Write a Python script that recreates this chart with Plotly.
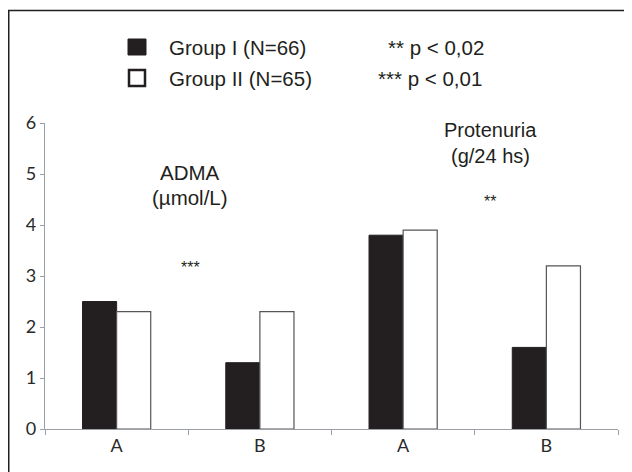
import plotly.graph_objects as go

categories = ["A1", "B1", "A2", "B2"]
tick_labels = ["A", "B", "A", "B"]
group1 = [2.5, 1.3, 3.8, 1.6]
group2 = [2.3, 2.3, 3.9, 3.2]
group1_name = "Group I (N=66)"
group2_name = "Group II (N=65)"

W, H = 624, 464
OFF = 8  # page body margin
# target plot area in screenshot pixels: x 45..618, y 123..429
L = 45 - OFF
T = 123 - OFF
R = W - (618 - OFF)
B = H - (429 - OFF)
pw, ph = W - L - R, H - T - B

def px(x):
    return (x - OFF - L) / pw

def py(y):
    return (H - B - (y - OFF)) / ph

fig = go.Figure()
fig.add_trace(go.Bar(x=categories, y=group1, name=group1_name,
                     marker=dict(color="#231f20", line=dict(color="#231f20", width=1))))
fig.add_trace(go.Bar(x=categories, y=group2, name=group2_name,
                     marker=dict(color="white", line=dict(color="#555555", width=1.2))))

axis_grey = "#9aa0a6"
tick_font = dict(family="Lato", size=18, color="#2a2a2a")
fig.update_layout(
    width=W, height=H,
    margin=dict(l=L, r=R, t=T, b=B, pad=0),
    paper_bgcolor="white", plot_bgcolor="white",
    showlegend=False,
    barmode="group", bargap=0.524, bargroupgap=0,
    xaxis=dict(type="category", tickmode="array", tickvals=categories, ticktext=tick_labels,
               tickson="boundaries", ticks="outside", ticklen=5, tickcolor=axis_grey,
               showline=True, linecolor=axis_grey, linewidth=1.2, showgrid=False,
               tickfont=tick_font),
    yaxis=dict(range=[0, 6], dtick=1, ticks="outside", ticklen=4, tickcolor=axis_grey,
               showline=True, linecolor=axis_grey, linewidth=1.2, showgrid=False,
               zeroline=False, tickfont=tick_font),
    font=dict(family="Liberation Sans", color="#231f20"),
)

shapes = []
# outer frame
shapes.append(dict(type="rect", xref="paper", yref="paper",
                   x0=px(8.75), x1=px(W + 60), y0=py(H + 60), y1=py(10.5),
                   line=dict(color="#231f20", width=1.5), fillcolor="rgba(0,0,0,0)"))
# legend boxes
shapes.append(dict(type="rect", xref="paper", yref="paper",
                   x0=px(128), x1=px(146), y0=py(55), y1=py(39),
                   line=dict(color="#231f20", width=1), fillcolor="#231f20"))
shapes.append(dict(type="rect", xref="paper", yref="paper",
                   x0=px(129), x1=px(145), y0=py(86), y1=py(70),
                   line=dict(color="#231f20", width=2.5), fillcolor="white"))
fig.update_layout(shapes=shapes)

def ann(text, x, y, size, xanchor="center", family="Liberation Sans"):
    fig.add_annotation(text=text, xref="paper", yref="paper", x=px(x), y=py(y),
                       xanchor=xanchor, yanchor="middle", showarrow=False,
                       font=dict(size=size, family=family, color="#231f20"))

ann(group1_name, 167, 47, 20.5, "left")
ann(group2_name, 167, 78, 20.5, "left")
ann("** p < 0,02", 486, 47, 20.5, "right")
ann("*** p < 0,01", 484, 78, 20.5, "right")
ann("ADMA", 190, 172, 20.5)
ann("(µmol/L)", 190, 197, 20.5)
ann("***", 190, 267, 16)
ann("Protenuria", 490, 130, 20)
ann("(g/24 hs)", 490, 156, 20)
ann("**", 490, 201, 16)

fig.write_html("out.html")
